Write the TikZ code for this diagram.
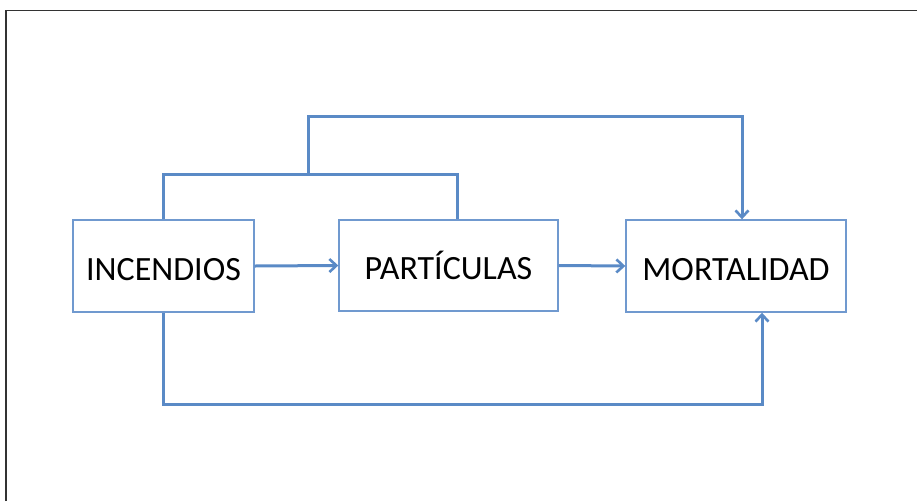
\documentclass[tikz,border=0pt]{standalone}
\usepackage{fontspec}
\setmainfont{Carlito}
\usetikzlibrary{arrows.meta,calc}
\definecolor{boxblue}{HTML}{7099CF}
\definecolor{linkblue}{HTML}{5A8AC6}
\definecolor{framegray}{HTML}{333333}
\tikzset{
  boxnode/.style={draw=boxblue, line width=1.4pt, fill=white, inner sep=0pt,
    text height=28pt, text depth=0pt,
    font=\fontsize{34}{40}\selectfont, text=black},
  link/.style={draw=linkblue, line width=3pt, line join=miter},
  arr/.style={link, -{Straight Barb[length=7pt,width=13pt,line width=2.6pt]}},
}
\begin{document}
\begin{tikzpicture}[x=1pt,y=-1pt]
\useasboundingbox (0,0) rectangle (917,501);
% partial frame (top and left)
\draw[framegray, line width=1.6pt] (6,501) -- (6,10.5) -- (917,10.5);
% boxes
\node[boxnode, minimum width=181pt, minimum height=92pt] (inc) at (163.5,266) {INCENDIOS};
\node[boxnode, minimum width=219pt, minimum height=91pt] (par) at (448.5,265.5) {PARTÍCULAS};
\node[boxnode, minimum width=220pt, minimum height=92pt] (mor) at (736,266) {MORTALIDAD};
% junction coordinates
\coordinate (upA) at (308,174);
\coordinate (upB) at (742,116);
\coordinate (lowB) at (762,404);
% straight arrows
\draw[arr] (inc.east) -- (par.west);
\draw[arr] (par.east) -- (mor.west);
% upper bracket joining incendios and particulas
\draw[link] (inc.north) |- ([xshift=8.5pt]par.north |- upA) -- ([xshift=8.5pt]par.north);
% upper connector to mortalidad
\draw[arr] (upA) |- (upB) -- ([xshift=6pt]mor.north);
% lower connector
\draw[arr] (inc.south) |- (lowB) -- ([xshift=26pt]mor.south);
\end{tikzpicture}
\end{document}
